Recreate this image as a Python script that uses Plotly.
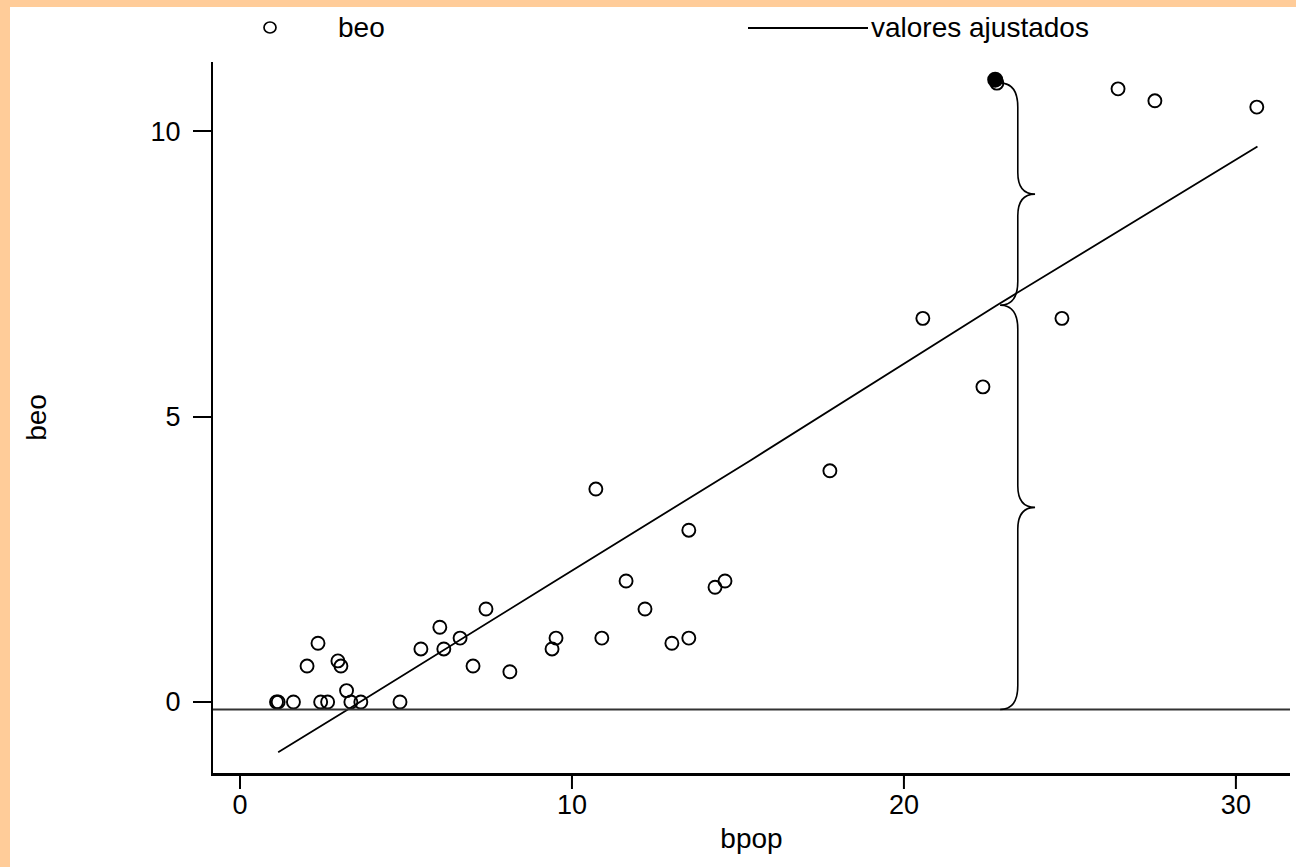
import plotly.graph_objects as go

# ---- data ----
bpop = [1.10, 1.15, 1.61, 2.43, 2.64, 3.21, 3.34, 3.64, 4.82,
        2.02, 2.35, 2.95, 3.04, 5.45, 6.02, 6.14, 6.63, 7.02, 7.41, 8.13,
        9.40, 9.52, 10.72, 10.90, 11.63, 12.20, 13.01, 13.52, 13.52, 14.31, 14.61,
        17.77, 20.57, 22.38, 24.76, 22.80, 26.45, 27.56, 30.63]
beo = [0.0, 0.0, 0.0, 0.0, 0.0, 0.2, 0.0, 0.0, 0.0,
       0.63, 1.03, 0.72, 0.63, 0.93, 1.31, 0.93, 1.12, 0.63, 1.63, 0.53,
       0.93, 1.12, 3.73, 1.12, 2.12, 1.63, 1.03, 1.12, 3.01, 2.01, 2.12,
       4.05, 6.72, 5.52, 6.72, 10.84, 10.74, 10.53, 10.42]

fit_x = [1.15, 3.20, 9.30, 15.40, 22.80, 30.65]
fit_y = [-0.88, -0.15, 2.05, 4.24, 6.95, 9.73]

hl_x = [22.75]
hl_y = [10.90]

ref_line_y = -0.13

x_ticks = [0, 10, 20, 30]
y_ticks = [0, 5, 10]

# ---- layout geometry (pixels) ----
W, H = 1296, 867
L, R, T, B = 213, 6, 62, 94
PW, PH = W - L - R, H - T - B
FONT = "Liberation Sans, Arial, Helvetica, sans-serif"
X_RANGE = [-0.813, 31.63]
Y_RANGE = [-1.243, 11.21]


def px2paper_x(px):
    return (px - L) / PW


def px2paper_y(py):
    return (H - B - py) / PH


def x2paper(v):
    return (v - X_RANGE[0]) / (X_RANGE[1] - X_RANGE[0])


def interp(x, xs, ys):
    for i in range(len(xs) - 1):
        if xs[i] <= x <= xs[i + 1]:
            t = (x - xs[i]) / (xs[i + 1] - xs[i])
            return ys[i] + t * (ys[i + 1] - ys[i])
    return ys[-1]


fig = go.Figure()

fig.add_trace(go.Scatter(
    x=bpop, y=beo, mode="markers", name="beo", showlegend=False,
    marker=dict(symbol="circle-open", size=13, color="black",
                line=dict(width=1.9, color="black"))))

fig.add_trace(go.Scatter(
    x=fit_x, y=fit_y, mode="lines", name="valores ajustados", showlegend=False,
    line=dict(color="black", width=1.8)))

fig.add_trace(go.Scatter(
    x=hl_x, y=hl_y, mode="markers", showlegend=False,
    marker=dict(symbol="circle", size=16, color="black")))

shapes = []
# horizontal reference line
shapes.append(dict(type="line", xref="paper", yref="y", x0=0, x1=1,
                   y0=ref_line_y, y1=ref_line_y,
                   line=dict(color="#333333", width=2)))

# x-axis tick marks (long, outside)
X_TICKLEN = 16
for tv in x_ticks:
    shapes.append(dict(type="rect", xref="paper", yref="paper",
                       x0=x2paper(tv) - 1 / PW, x1=x2paper(tv) + 1 / PW,
                       y0=-X_TICKLEN / PH, y1=0,
                       fillcolor="black", line=dict(width=0)))

# curly braces (decomposition of deviation of highlighted point)
x_pt = 22.80
px_pt = beo[bpop.index(x_pt)]
y_fit = interp(x_pt, fit_x, fit_y)
ex = x_pt + 0.1
sx = x_pt + 0.63
tx = x_pt + 1.15


def brace(yt, yb, r=0.42, rm=0.38):
    ym = (yt + yb) / 2
    return (f"M {ex},{yt} Q {sx},{yt} {sx},{yt - r} "
            f"L {sx},{ym + rm} Q {sx},{ym} {tx},{ym} "
            f"Q {sx},{ym} {sx},{ym - rm} "
            f"L {sx},{yb + r} Q {sx},{yb} {ex},{yb}")


for yt, yb in [(px_pt, y_fit), (y_fit, ref_line_y)]:
    shapes.append(dict(type="path", xref="x", yref="y", path=brace(yt, yb),
                       line=dict(color="black", width=1.6)))

# orange frame strips (left and top)
ORANGE = "#FFCC99"
shapes.append(dict(type="rect", xref="paper", yref="paper", layer="below",
                   x0=px2paper_x(0), x1=px2paper_x(10),
                   y0=px2paper_y(H), y1=px2paper_y(0),
                   fillcolor=ORANGE, line=dict(width=0)))
shapes.append(dict(type="rect", xref="paper", yref="paper", layer="below",
                   x0=px2paper_x(0), x1=px2paper_x(W),
                   y0=px2paper_y(7), y1=px2paper_y(0),
                   fillcolor=ORANGE, line=dict(width=0)))

# legend (manual, Stata-like layout)
shapes.append(dict(type="circle", xref="paper", yref="paper",
                   x0=px2paper_x(264), x1=px2paper_x(276),
                   y0=px2paper_y(33), y1=px2paper_y(22),
                   line=dict(color="black", width=1.7)))
shapes.append(dict(type="line", xref="paper", yref="paper",
                   x0=px2paper_x(748), x1=px2paper_x(868),
                   y0=px2paper_y(28), y1=px2paper_y(28),
                   line=dict(color="black", width=1.8)))

annotations = [
    dict(text="beo", xref="paper", yref="paper", x=px2paper_x(336),
         y=px2paper_y(27), xanchor="left", yanchor="middle", showarrow=False,
         font=dict(family=FONT, size=28, color="black")),
    dict(text="valores ajustados", xref="paper", yref="paper",
         x=px2paper_x(869), y=px2paper_y(27), xanchor="left",
         yanchor="middle", showarrow=False,
         font=dict(family=FONT, size=28, color="black")),
]

fig.update_layout(
    width=W, height=H,
    margin=dict(l=L, r=R, t=T, b=B, pad=0),
    paper_bgcolor="white", plot_bgcolor="white",
    font=dict(family=FONT, size=27, color="black"),
    shapes=shapes, annotations=annotations, showlegend=False,
    xaxis=dict(range=X_RANGE, tickvals=x_ticks, ticks="outside",
               ticklen=3, tickwidth=2, tickcolor="black",
               showline=True, linewidth=2.5, linecolor="black",
               showgrid=False, zeroline=False, ticklabelstandoff=3,
               tickfont=dict(size=27),
               title=dict(text="bpop", font=dict(size=28), standoff=10)),
    yaxis=dict(range=Y_RANGE, tickvals=y_ticks, ticks="outside",
               ticklen=18, tickwidth=2, tickcolor="black",
               showline=True, linewidth=2, linecolor="black",
               showgrid=False, zeroline=False, ticklabelstandoff=7,
               tickfont=dict(size=27),
               title=dict(text="beo", font=dict(size=28), standoff=96)),
)

fig.write_html("out.html",
               config={"displayModeBar": False},
               post_script="document.body.style.margin='0';"
                           "document.body.style.overflow='hidden';")
